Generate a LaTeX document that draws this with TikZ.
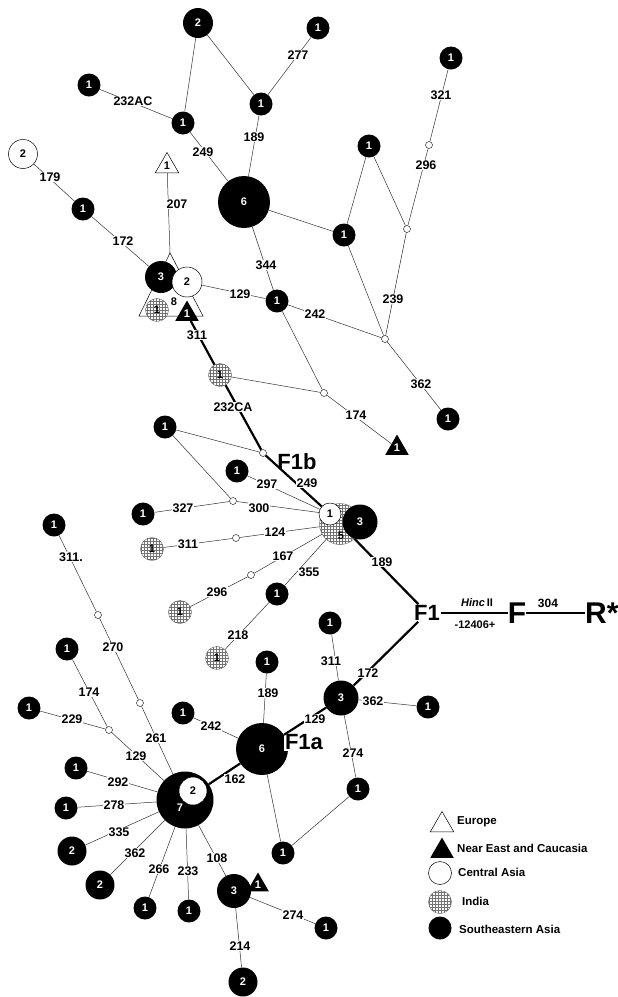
\documentclass[tikz,border=0pt]{standalone}
\usepackage{fontspec}
\setmainfont{Liberation Sans}
\usetikzlibrary{shapes.geometric,patterns}

\begin{document}
\begin{tikzpicture}[x=1pt,y=-1pt,
  num/.style={font=\bfseries\fontsize{11}{11}\selectfont,inner sep=0pt},
  sea/.style={num,circle,fill=black,text=white,minimum size=23pt},
  ca/.style={num,circle,fill=white,draw,line width=0.5pt,minimum size=23pt},
  ind/.style={num,circle,preaction={fill=white},pattern=grid,pattern color=black!55,draw=black!60,line width=0.4pt,minimum size=23pt},
  eu/.style={num,regular polygon,regular polygon sides=3,fill=white,draw,line width=0.5pt,minimum size=27pt},
  ne/.style={num,regular polygon,regular polygon sides=3,fill=black,text=white,minimum size=27pt},
  mv/.style={circle,fill=white,draw,line width=0.4pt,inner sep=0pt,minimum size=7pt},
  lbl/.style={fill=white,inner sep=0.7pt,font=\bfseries\fontsize{12.5}{12.5}\selectfont},
  hap/.style={fill=white,inner sep=1pt,font=\bfseries\fontsize{22}{22}\selectfont},
  leg/.style={anchor=west,inner sep=0pt,font=\bfseries\fontsize{11.5}{11.5}\selectfont},
  link/.style={draw=black!80,line width=0.5pt},
  trunk/.style={draw=black,line width=2.2pt}]

  \useasboundingbox[fill=white] (0,0) rectangle (618,997);

  % upper network
  \node[sea,minimum size=30pt] (t2) at (198,23) {2};
  \node[sea] (t277) at (318,28) {1};
  \node[sea] (t232) at (89,85) {1};
  \node[sea] (tj) at (183,123) {1};
  \node[sea] (te) at (261,104) {1};
  \node[sea] (t321) at (451,58) {1};
  \node[ca,minimum size=29pt] (tw2) at (23,154) {2};
  \node[sea] (t179) at (83,209) {1};
  \node[eu] (teu) at (167,166) {1};
  \node[sea,minimum size=52pt] (t6) at (244,202) {6};
  \node[sea] (th) at (369,146) {1};
  \node[sea] (ti) at (344,235) {1};
  \node[sea] (tj344) at (277,301) {1};
  \node[sea] (t362) at (448,419) {1};
  \node[mv] (mv296) at (429,145) {};
  \node[mv] (mv239) at (407,229) {};
  \node[mv] (mv242) at (385,339) {};
  \node[mv] (mv174) at (324,393) {};
  \node[ne] (tne) at (397,448) {1};

  \coordinate (tri8) at (170,253);
  \draw[fill=white,line width=0.5pt] (139,316) -- (tri8) -- (203,316) -- cycle;
  \node[sea,minimum size=32pt] (ca3) at (161,277) {3};
  \node[ca,minimum size=30pt] (ca2) at (187,282) {2};
  \node[ind] (cai) at (157,310) {1};
  \node[ne] (cane) at (187,314) {1};
  \node[num] (c8) at (174,302) {8};

  \node[ind] (ind232) at (220,375) {1};
  \node[mv] (mvf1b) at (263,453) {};
  \node[sea] (l165) at (165,427) {1};
  \node[mv] (mv300) at (233,501) {};
  \node[sea] (n327) at (143,514) {1};
  \node[sea] (n297) at (237,471) {1};
  \node[ind] (i311) at (152,549) {1};
  \node[mv] (mv124) at (236,538) {};
  \node[ind] (i296) at (180,612) {1};
  \node[mv] (mv167) at (251,575) {};
  \node[sea] (n355) at (277,594) {1};
  \node[ind] (i218) at (217,658) {1};

  \node[ind,minimum size=41pt] (cb5) at (340,524) {};
  \node[ca,minimum size=22pt] (cb1) at (330,514) {1};
  \node[sea,minimum size=35pt] (cb3) at (360,522) {3};
  \node[num] (c5) at (341,536) {5};

  % lower network
  \node[sea] (b174) at (67,649) {1};
  \node[sea] (b229) at (29,708) {1};
  \node[mv] (mv129) at (109,730) {};
  \node[mv] (mv261) at (140,703) {};
  \node[mv] (mv270) at (98,615) {};
  \node[sea] (b311) at (54,525) {1};
  \node[sea] (b242) at (183,713) {1};
  \node[sea] (b292) at (76,768) {1};
  \node[sea] (b278) at (66,808) {1};
  \node[sea,minimum size=29pt] (b335) at (72,851) {2};
  \node[sea,minimum size=29pt] (b362) at (100,885) {2};
  \node[sea] (b266) at (145,908) {1};
  \node[sea] (b233) at (189,911) {1};
  \node[sea,minimum size=57pt] (b7) at (185,800) {};
  \node[ca,minimum size=28pt] (bo2) at (193,791) {2};
  \node[num,text=white] (c7) at (180,808) {7};
  \node[sea,minimum size=52pt] (b6) at (262,749) {6};
  \node[sea] (b189) at (267,662) {1};
  \node[sea,minimum size=35pt] (b3) at (341,698) {3};
  \node[sea] (b311r) at (330,623) {1};
  \node[sea] (b362r) at (428,707) {1};
  \node[sea] (b274r) at (358,789) {1};
  \node[sea] (bbot) at (283,853) {1};
  \node[sea,minimum size=34pt] (c3) at (234,891) {3};
  \node[ne,minimum size=25pt] (cne) at (258,885) {1};
  \node[sea] (c274) at (326,928) {1};
  \node[sea,minimum size=29pt] (c2) at (243,982) {2};

  % haplogroup names
  \node[hap] (f1) at (427,613) {F1};
  \node[hap] (f1b) at (297,462) {F1b};
  \node[hap] (f1a) at (304,742) {F1a};
  \node[inner sep=0pt,font=\bfseries\fontsize{30}{30}\selectfont] (hf) at (517,613) {F};
  \node[anchor=west,inner sep=0pt,font=\bfseries\fontsize{30}{30}\selectfont] (hr) at (585,613) {R*};
  \node[inner sep=0pt,font=\bfseries\fontsize{11}{11}\selectfont] (hinc) at (477,603) {\textit{Hinc}\,II};
  \node[inner sep=0pt,font=\bfseries\fontsize{11}{11}\selectfont] (site) at (475,625) {-12406+};
  \node[inner sep=0pt,font=\bfseries\fontsize{12}{12}\selectfont] (r304) at (548,603) {304};
  \draw[line width=1.2pt] (f1.east) -- (hf.west);
  \draw[line width=1.2pt] (hf.east) -- (hr.west);

  \path[link]
    (t2) edge (tj)
    (t2) edge (te)
    (t232) edge (tj)
    (tj) edge (t6)
    (te) edge (t6)
    (te) edge (t277)
    (tw2) edge (t179)
    (t179) edge (ca3)
    (teu) edge (tri8)
    (t6) edge (ti)
    (t6) edge (tj344)
    (ca2) edge (tj344)
    (tj344) edge (mv242)
    (tj344) edge (mv174)
    (ti) edge (th)
    (ti) edge (mv242)
    (th) edge (mv239)
    (mv239) edge (mv296)
    (mv296) edge (t321)
    (mv239) edge (mv242)
    (mv242) edge (t362)
    (ind232) edge (mv174)
    (mv174) edge (tne)
    (l165) edge (mvf1b)
    (l165) edge (mv300)
    (n327) edge (mv300)
    (mv300) edge (cb1)
    (n297) edge (cb1)
    (i311) edge (mv124)
    (mv124) edge (cb5)
    (i296) edge (mv167)
    (mv167) edge (cb5)
    (n355) edge (cb5)
    (n355) edge (i218);

  \path[link]
    (b3) edge (b311r)
    (b3) edge (b362r)
    (b3) edge (b274r)
    (b274r) edge (bbot)
    (b6) edge (bbot)
    (b6) edge (b189)
    (b6) edge (b242)
    (b7) edge (mv129)
    (mv129) edge (b174)
    (mv129) edge (b229)
    (b7) edge (mv261)
    (mv261) edge (mv270)
    (mv270) edge (b311)
    (b7) edge (b292)
    (b7) edge (b278)
    (b7) edge (b335)
    (b7) edge (b362)
    (b7) edge (b266)
    (b7) edge (b233)
    (b7) edge (c3)
    (c3) edge (c274)
    (c3) edge (c2);

  \path[trunk]
    (cane) edge (ind232)
    (ind232) edge (mvf1b)
    (mvf1b) edge (cb1)
    (cb5) edge (f1)
    (f1) edge (b3)
    (b3) edge (b6)
    (b6) edge (b7);

  % mutation labels
  \node[lbl] (q232ac) at (133,101) {232AC};
  \node[lbl] (q249a) at (203,152) {249};
  \node[lbl] (q189a) at (254,137) {189};
  \node[lbl] (q277) at (298,55) {277};
  \node[lbl] (q179) at (50,177) {179};
  \node[lbl] (q207) at (177,204) {207};
  \node[lbl] (q172a) at (123,241) {172};
  \node[lbl] (q321) at (441,95) {321};
  \node[lbl] (q296a) at (426,165) {296};
  \node[lbl] (q344) at (266,265) {344};
  \node[lbl] (q129a) at (240,294) {129};
  \node[lbl] (q242a) at (315,314) {242};
  \node[lbl] (q239) at (393,299) {239};
  \node[lbl] (q362a) at (421,384) {362};
  \node[lbl] (q174a) at (356,415) {174};
  \node[lbl] (q311a) at (197,335) {311};
  \node[lbl] (q232ca) at (233,407) {232CA};
  \node[lbl] (q249b) at (307,483) {249};
  \node[lbl] (q297) at (267,484) {297};
  \node[lbl] (q327) at (183,508) {327};
  \node[lbl] (q300) at (259,508) {300};
  \node[lbl] (q311b) at (188,544) {311};
  \node[lbl] (q124) at (275,532) {124};
  \node[lbl] (q167) at (283,556) {167};
  \node[lbl] (q296b) at (217,592) {296};
  \node[lbl] (q355) at (309,572) {355};
  \node[lbl] (q218) at (238,635) {218};
  \node[lbl] (q189b) at (382,562) {189};
  \node[lbl] (q311c) at (71,557) {311.};
  \node[lbl] (q270) at (113,647) {270};
  \node[lbl] (q174b) at (89,692) {174};
  \node[lbl] (q229) at (72,719) {229};
  \node[lbl] (q261) at (156,738) {261};
  \node[lbl] (q129b) at (136,756) {129};
  \node[lbl] (q189c) at (268,693) {189};
  \node[lbl] (q311d) at (331,661) {311};
  \node[lbl] (q172b) at (368,673) {172};
  \node[lbl] (q362b) at (373,701) {362};
  \node[lbl] (q129c) at (315,719) {129};
  \node[lbl] (q242b) at (211,726) {242};
  \node[lbl] (q274a) at (353,753) {274};
  \node[lbl] (q162) at (235,779) {162};
  \node[lbl] (q292) at (118,782) {292};
  \node[lbl] (q278) at (114,805) {278};
  \node[lbl] (q335) at (119,832) {335};
  \node[lbl] (q362c) at (135,853) {362};
  \node[lbl] (q266) at (159,869) {266};
  \node[lbl] (q233) at (188,871) {233};
  \node[lbl] (q108) at (217,858) {108};
  \node[lbl] (q274b) at (293,915) {274};
  \node[lbl] (q214) at (240,946) {214};

  % legend
  \node[eu] (leu) at (442,825) {};
  \node[ne] (lne) at (442,851) {};
  \node[ca] (lca) at (440,873) {};
  \node[ind] (lin) at (440,902) {};
  \node[sea] (lse) at (440,928) {};
  \node[leg] (xeu) at (457,822) {Europe};
  \node[leg] (xne) at (457,848) {Near East and Caucasia};
  \node[leg] (xca) at (458,872) {Central Asia};
  \node[leg] (xin) at (462,901) {India};
  \node[leg] (xse) at (459,929) {Southeastern Asia};

\end{tikzpicture}
\end{document}
